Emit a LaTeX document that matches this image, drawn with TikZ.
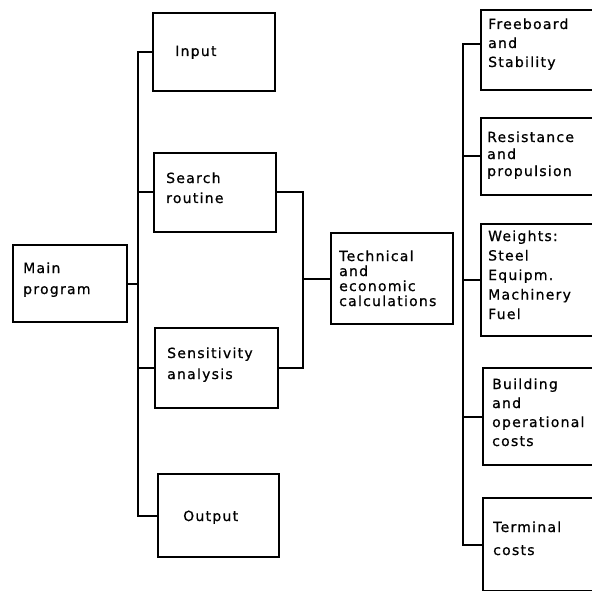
\documentclass[tikz,border=0pt]{standalone}
\usepackage{fontspec}
\setmainfont{DejaVu Sans}[LetterSpace=9,FakeBold=0.8]
\begin{document}
\begin{tikzpicture}[x=1pt,y=-1pt,
  box/.style={draw, line width=2pt, inner sep=0pt, anchor=north west},
  conn/.style={line width=2pt},
  lbl/.style={anchor=base west, inner sep=0pt, align=left, font=\fontsize{14}{#1}\selectfont}]
\useasboundingbox (0,0) rectangle (592,591);
\clip (0,0) rectangle (592,591);
% boxes
\node[box, minimum width=114pt, minimum height=77pt] (main) at (12,244) {};
\node[box, minimum width=122pt, minimum height=78pt] (input) at (152,12) {};
\node[box, minimum width=122pt, minimum height=79pt] (search) at (153,152) {};
\node[box, minimum width=123pt, minimum height=80pt] (sens) at (154,327) {};
\node[box, minimum width=121pt, minimum height=83pt] (output) at (157,473) {};
\node[box, minimum width=122pt, minimum height=91pt] (tech) at (330,232) {};
\node[box, minimum width=130pt, minimum height=80pt] (free) at (480,9) {};
\node[box, minimum width=130pt, minimum height=77pt] (resist) at (480,117) {};
\node[box, minimum width=130pt, minimum height=112pt] (weights) at (480,223) {};
\node[box, minimum width=130pt, minimum height=97pt] (build) at (482,367) {};
\node[box, minimum width=130pt, minimum height=93pt] (term) at (482,497) {};
% trunks
\coordinate (L) at (138,0);
\coordinate (M) at (303,0);
\coordinate (R) at (463,0);
\draw[conn] (input.west) -| (output.west -| L) -- (output.west);
\draw[conn] (main.east) -- (main.east -| L);
\draw[conn] (search.west) -- (search.west -| L);
\draw[conn] (sens.west) -- (sens.west -| L);
\draw[conn] (search.east) -| (sens.east -| M) -- (sens.east);
\draw[conn] (tech.west) -- (tech.west -| M);
\draw[conn] ([yshift=6pt]free.west) -| (term.west -| R) -- (term.west);
\draw[conn] (resist.west) -- (resist.west -| R);
\draw[conn] (weights.west) -- (weights.west -| R);
\draw[conn] (build.west) -- (build.west -| R);
% labels (anchor = baseline of the last line)
\node[lbl=20] (tinput) at (175,56) {Input};
\node[lbl=20] (tsearch) at (166,203) {Search\\routine};
\node[lbl=21] (tmain) at (23,294) {Main\\program};
\node[lbl=21] (tsens) at (167,379) {Sensitivity\\analysis};
\node[lbl=20] (toutput) at (183,521) {Output};
\node[lbl=15] (ttech) at (339,306) {Technical\\and\\economic\\calculations};
\node[lbl=19] (tfree) at (488,67) {Freeboard\\and\\Stability};
\node[lbl=17] (tresist) at (487,176) {Resistance\\and\\propulsion};
\node[lbl=19.5] (tweights) at (488,319) {Weights:\\Steel\\Equipm.\\Machinery\\Fuel};
\node[lbl=19] (tbuild) at (492,446) {Building\\and\\operational\\costs};
\node[lbl=23] (tterm) at (493,555) {Terminal\\costs};
\end{tikzpicture}
\end{document}
